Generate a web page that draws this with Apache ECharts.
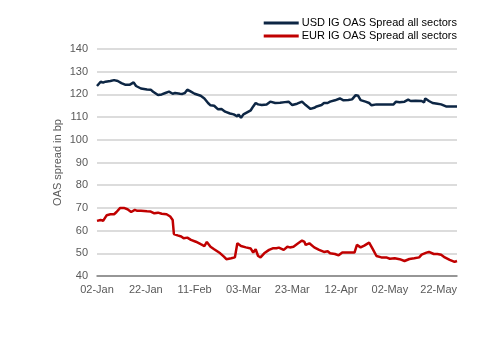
<!DOCTYPE html>
<html>
<head>
<meta charset="utf-8">
<script src="https://cdn.jsdelivr.net/npm/echarts@6/dist/echarts.min.js"></script>
<style>html,body{margin:0;padding:0;background:#fff;}#c{width:504px;height:355px;}</style>
</head>
<body>
<div id="c"></div>
<script>
// day offsets from 02-Jan
var tickLabels = ['02-Jan','22-Jan','11-Feb','03-Mar','23-Mar','12-Apr','02-May','22-May'];
var seriesNames = ['USD IG OAS Spread all sectors','EUR IG OAS Spread all sectors'];
var usdDays = [0,1.5,2.5,3.5,5.5,7,8.5,10,11.5,13.5,15,16,18,20.5,22,23,25,26.5,28,29.5,31,32,34,35,36,37,38.5,40,42.5,44,45.5,46.5,48,49.5,51,52.5,54.5,56,57.5,58,59,60,61.5,63,64,65,66,67.5,69.5,71,71.5,73,75,77,78.5,80,82,84,85.5,87.5,89,90,92,93,94.5,95.5,97.5,99.5,101,103,104.5,106,107,108,110,111.5,112.5,114.5,117,119.5,121.5,122.5,124,126,127.5,128.5,130.5,133,134,134.5,136,137.5,139.5,141,141.5,143,147.5];
var usdVals = [123.7,125.6,125.2,125.6,125.9,126.3,125.9,125.0,124.3,124.3,125.3,123.7,122.6,122.2,122.1,121.2,119.7,120.0,120.6,121.2,120.3,120.6,120.3,120.2,120.6,122.1,121.2,120.3,119.4,118.2,116.2,115.2,115.0,113.5,113.6,112.4,111.6,111.2,110.3,111.2,109.7,111.2,112.1,113.0,114.7,116.2,115.6,115.3,115.6,116.8,117.4,116.2,116.3,116.6,116.8,115.3,115.9,116.8,115.3,113.6,114.1,114.7,115.3,116.2,116.2,116.8,117.4,118.2,117.4,117.5,117.8,119.7,119.4,117.5,116.8,116.2,115.2,115.6,115.6,115.6,115.6,116.8,116.5,116.8,117.7,117.1,117.2,117.1,116.5,118.2,117.1,116.2,115.9,115.6,116.2,114.7,114.7];
var eurDays = [0,1.5,2.5,4,5.5,7,8,9.5,11,12.5,14,15.5,16.5,18,20.5,22,23.5,25,26.5,28.5,30,31,31.5,33,34.5,35.5,37,38.5,40.5,42.5,44,45,46.5,48,50.5,52,53,55,56.5,57.5,59,61,63,64,65,66,67,68.5,70.5,72,73.5,74.5,76.5,78,79,80.5,82,84,85,85.5,87,89,91,93,94.5,95.5,97.5,99,100.5,102.5,105.5,106.5,108,109.5,111.5,113,114.5,116.5,118.5,120,122,124,126,128,130,132,133,135,136,138,139.5,141,142.5,144.5,146.5,147.5];
var eurVals = [64.3,64.7,64.3,66.8,67.2,67.2,68.2,70.0,70.0,69.4,68.2,69.1,68.7,68.7,68.5,68.4,67.6,67.9,67.4,67.2,66.2,64.7,58.5,57.9,57.4,56.6,56.9,55.9,55.1,54.0,53.2,55.0,52.9,51.8,50.0,48.5,47.4,47.8,48.2,54.4,53.2,52.6,52.1,50.3,51.8,48.8,48.2,50.0,51.5,52.2,52.2,52.5,51.5,52.9,52.6,52.9,54.1,55.6,55.0,53.7,54.4,52.6,51.5,50.6,50.9,50.0,49.7,49.1,50.3,50.3,50.3,53.7,52.6,53.4,54.7,51.8,48.8,48.2,48.2,47.6,47.8,47.4,46.6,47.5,47.8,48.2,49.4,50.3,50.6,49.7,49.7,49.4,48.2,47.1,46.2,46.6];

function pairs(xs, ys){ return xs.map(function(x,i){ return [x, ys[i]]; }); }

var chart = echarts.init(document.getElementById('c'), null, {renderer:'canvas'});
var txt = '#595959';
var font = '"Liberation Sans", Arial, sans-serif';
chart.setOption({
  animation:false,
  backgroundColor:'#fff',
  textStyle:{fontFamily:font},
  legend:{
    orient:'vertical', right:47, top:17, itemGap:1, padding:0,
    itemWidth:35, itemHeight:3, icon:'rect',
    textStyle:{fontSize:11, color:'#000', fontFamily:font, padding:[0,0,0,-2], lineHeight:12},
    data:seriesNames
  },
  grid:{left:97, right:47, top:49, bottom:79},
  xAxis:{
    type:'value', min:0, max:147.5, interval:20,
    axisLine:{show:true, lineStyle:{color:'#7f7f7f', width:1.5}},
    axisTick:{show:false},
    splitLine:{show:false},
    axisLabel:{color:txt, fontSize:11, margin:8, showMaxLabel:false, fontFamily:font,
      formatter:function(v){ var i=Math.round(v/20); return (Math.abs(v-i*20)<1e-6 && tickLabels[i])?tickLabels[i]:''; }}
  },
  yAxis:{
    type:'value', min:40, max:140, interval:10,
    name:'OAS spread in bp', nameLocation:'middle', nameGap:34, nameMoveOverlap:false,
    nameTextStyle:{color:txt, fontSize:11, fontFamily:font},
    axisLine:{show:false}, axisTick:{show:false},
    axisLabel:{color:txt, fontSize:11, margin:9, fontFamily:font},
    splitLine:{show:true, lineStyle:{color:'#d0d0d0', width:1.5}}
  },
  series:[
    {name:seriesNames[0], type:'line', data:pairs(usdDays,usdVals), symbol:'none',
     itemStyle:{color:'#0d2644'}, lineStyle:{color:'#0d2644', width:2.5}},
    {name:seriesNames[1], type:'line', data:pairs(eurDays,eurVals), symbol:'none',
     itemStyle:{color:'#c00000'}, lineStyle:{color:'#c00000', width:2.5}}
  ]
});
</script>
</body>
</html>
